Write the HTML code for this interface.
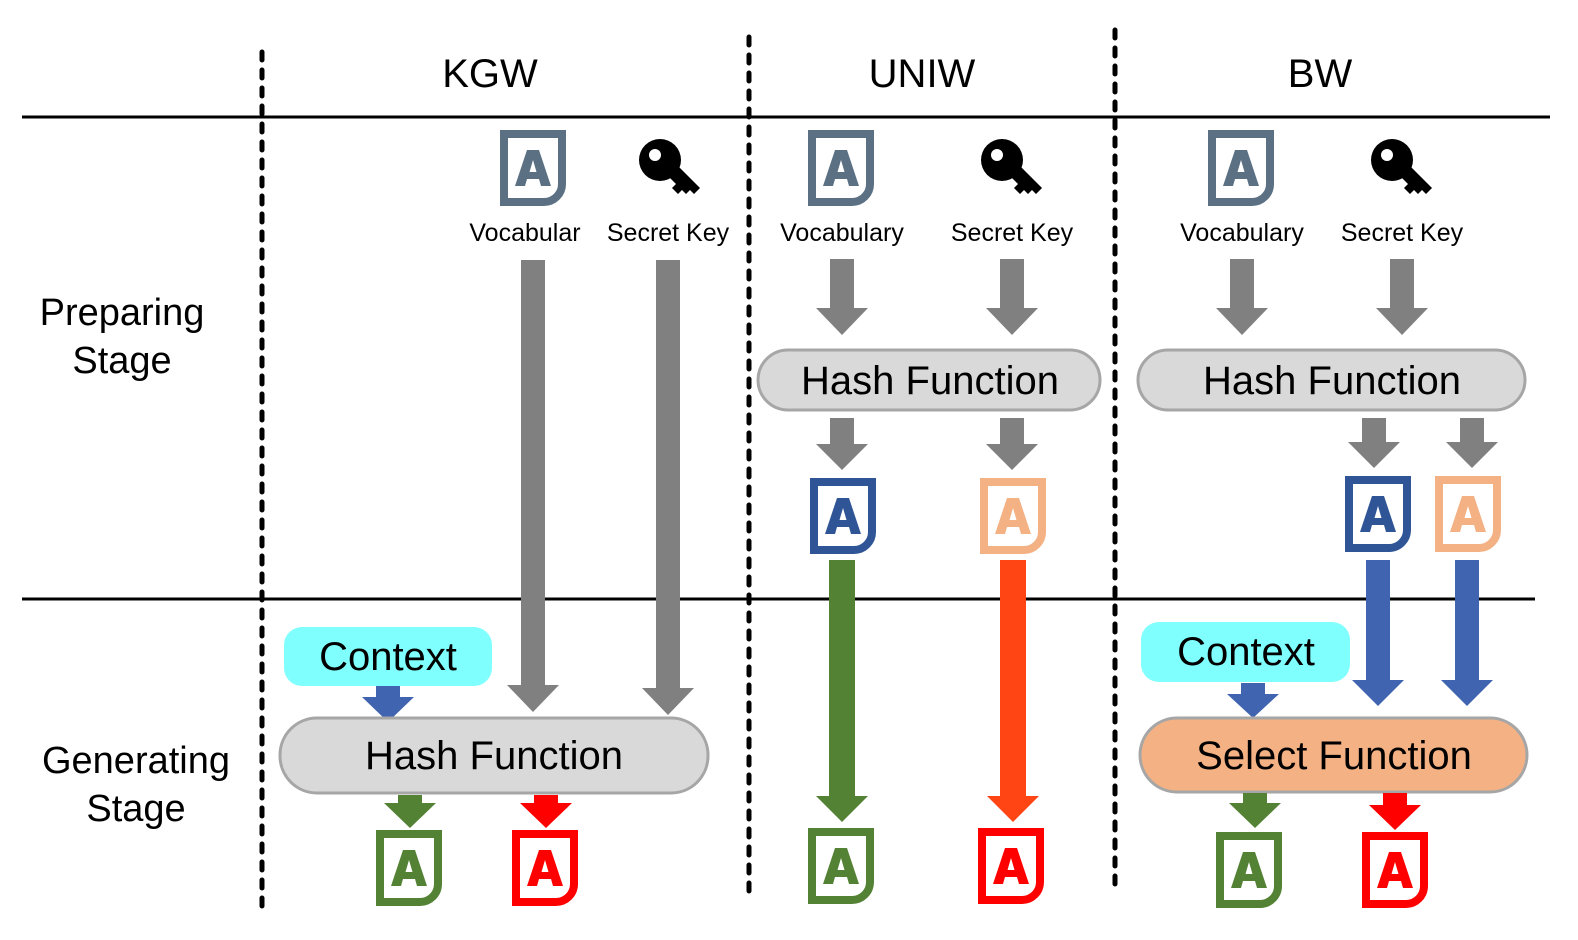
<!DOCTYPE html>
<html><head><meta charset="utf-8"><style>
html,body{margin:0;padding:0;background:#fff;overflow:hidden;width:1578px;height:940px;}
svg{display:block;}
text{font-family:"Liberation Sans","DejaVu Sans",sans-serif;fill:#000;}
</style></head><body>
<svg width="1578" height="940" viewBox="0 0 1578 940" xmlns="http://www.w3.org/2000/svg">
<defs>
<symbol id="doc" viewBox="0 0 66 76" overflow="visible">
<path d="M4 4 H62 V54 A18 18 0 0 1 44 72 H4 Z" fill="none" stroke="currentColor" stroke-width="8"/>
<path fill-rule="evenodd" fill="currentColor" d="M27 20 H39 L51 56 H41 L39 49 H27 L25 56 H15 Z M29.5 42 H36.5 L33 30 Z"/>
</symbol>
<symbol id="key" viewBox="0 0 62 60" overflow="visible">
<circle cx="22" cy="22" r="21" fill="#000"/>
<circle cx="17" cy="17" r="6" fill="#fff"/>
<path d="M26 34 L36 24 L62 50 L56 56 L52 52 L48 56 L44 52 L40 56 L34 50 L38 46 Z" fill="#000"/>
</symbol>
</defs>

<line x1="22" y1="117" x2="1550" y2="117" stroke="#000" stroke-width="3"/>
<line x1="22" y1="599" x2="1535" y2="599" stroke="#000" stroke-width="3"/>
<g stroke="#000" stroke-width="5" stroke-dasharray="8 10" stroke-linecap="round">
<line x1="262" y1="52" x2="262" y2="913"/>
<line x1="749" y1="37" x2="749" y2="893"/>
<line x1="1115" y1="30" x2="1115" y2="888"/>
</g>

<g font-size="40" text-anchor="middle">
<text x="490" y="87">KGW</text>
<text x="922" y="87">UNIW</text>
<text x="1320" y="87">BW</text>
</g>
<g font-size="38" text-anchor="middle">
<text x="122" y="325">Preparing</text>
<text x="122" y="373">Stage</text>
<text x="136" y="773">Generating</text>
<text x="136" y="821">Stage</text>
</g>

<use href="#doc" x="500" y="130" width="66" height="76" color="#5B7083"/>
<use href="#key" x="638" y="138" width="62" height="60"/>
<g font-size="25" text-anchor="middle">
<text x="525" y="241">Vocabular</text>
<text x="668" y="241">Secret Key</text>
<text x="842" y="241">Vocabulary</text>
<text x="1012" y="241">Secret Key</text>
<text x="1242" y="241">Vocabulary</text>
<text x="1402" y="241">Secret Key</text>
</g>

<g fill="#808080">
<path d="M521 260 H545 V685 H559 L533 712 L507 685 H521 Z"/>
<path d="M656 260 H680 V688 H694 L668 715 L642 688 H656 Z"/>
<path d="M830 259 H854 V308 H868 L842 335 L816 308 H830 Z"/>
<path d="M1000 259 H1024 V308 H1038 L1012 335 L986 308 H1000 Z"/>
<path d="M830 418 H854 V444 H868 L842 470 L816 444 H830 Z"/>
<path d="M1000 418 H1024 V444 H1038 L1012 470 L986 444 H1000 Z"/>
<path d="M1230 259 H1254 V308 H1268 L1242 335 L1216 308 H1230 Z"/>
<path d="M1390 259 H1414 V308 H1428 L1402 335 L1376 308 H1390 Z"/>
<path d="M1362 418 H1386 V442 H1400 L1374 468 L1348 442 H1362 Z"/>
<path d="M1460 418 H1484 V442 H1498 L1472 468 L1446 442 H1460 Z"/>
</g>

<rect x="284" y="627" width="208" height="59" rx="18" fill="#80FFFF"/>
<text x="388" y="670" font-size="40" text-anchor="middle">Context</text>
<path d="M376 686 H400 V697 H414 L388 722 L362 697 H376 Z" fill="#4064AF"/>
<rect x="280" y="718" width="428" height="75" rx="37" fill="#D9D9D9" stroke="#A6A6A6" stroke-width="3"/>
<text x="494" y="769" font-size="40" text-anchor="middle">Hash Function</text>
<path d="M398 795 H422 V803 H436 L410 828 L384 803 H398 Z" fill="#548235"/>
<path d="M534 795 H558 V803 H572 L546 828 L520 803 H534 Z" fill="#FF0000"/>
<use href="#doc" x="376" y="830" width="66" height="76" color="#548235"/>
<use href="#doc" x="512" y="830" width="66" height="76" color="#FF0000"/>

<use href="#doc" x="808" y="130" width="66" height="76" color="#5B7083"/>
<use href="#key" x="980" y="138" width="62" height="60"/>
<rect x="758" y="350" width="342" height="60" rx="30" fill="#D9D9D9" stroke="#A6A6A6" stroke-width="3"/>
<text x="930" y="394" font-size="40" text-anchor="middle">Hash Function</text>
<use href="#doc" x="810" y="478" width="66" height="76" color="#2F5597"/>
<use href="#doc" x="980" y="478" width="66" height="76" color="#F4B183"/>
<path d="M829 560 H855 V796 H868 L842 822 L816 796 H829 Z" fill="#548235"/>
<path d="M1000 560 H1026 V796 H1039 L1013 822 L987 796 H1000 Z" fill="#FF4513"/>
<use href="#doc" x="808" y="828" width="66" height="76" color="#548235"/>
<use href="#doc" x="978" y="828" width="66" height="76" color="#FF0000"/>

<use href="#doc" x="1208" y="130" width="66" height="76" color="#5B7083"/>
<use href="#key" x="1370" y="138" width="62" height="60"/>
<rect x="1138" y="350" width="387" height="60" rx="30" fill="#D9D9D9" stroke="#A6A6A6" stroke-width="3"/>
<text x="1332" y="394" font-size="40" text-anchor="middle">Hash Function</text>
<use href="#doc" x="1345" y="476" width="66" height="76" color="#2F5597"/>
<use href="#doc" x="1435" y="476" width="66" height="76" color="#F4B183"/>
<path d="M1366 560 H1390 V680 H1404 L1378 706 L1352 680 H1366 Z" fill="#4064AF"/>
<path d="M1455 560 H1479 V680 H1493 L1467 706 L1441 680 H1455 Z" fill="#4064AF"/>
<rect x="1141" y="622" width="209" height="60" rx="18" fill="#80FFFF"/>
<text x="1246" y="665" font-size="40" text-anchor="middle">Context</text>
<path d="M1241 683 H1265 V694 H1279 L1253 718 L1227 694 H1241 Z" fill="#4064AF"/>
<rect x="1140" y="718" width="387" height="74" rx="37" fill="#F4B183" stroke="#A6A6A6" stroke-width="3"/>
<text x="1334" y="769" font-size="40" text-anchor="middle">Select Function</text>
<path d="M1243 793 H1267 V803 H1281 L1255 828 L1229 803 H1243 Z" fill="#548235"/>
<path d="M1383 793 H1407 V805 H1421 L1395 830 L1369 805 H1383 Z" fill="#FF0000"/>
<use href="#doc" x="1216" y="832" width="66" height="76" color="#548235"/>
<use href="#doc" x="1362" y="832" width="66" height="76" color="#FF0000"/>
</svg>
</body></html>
